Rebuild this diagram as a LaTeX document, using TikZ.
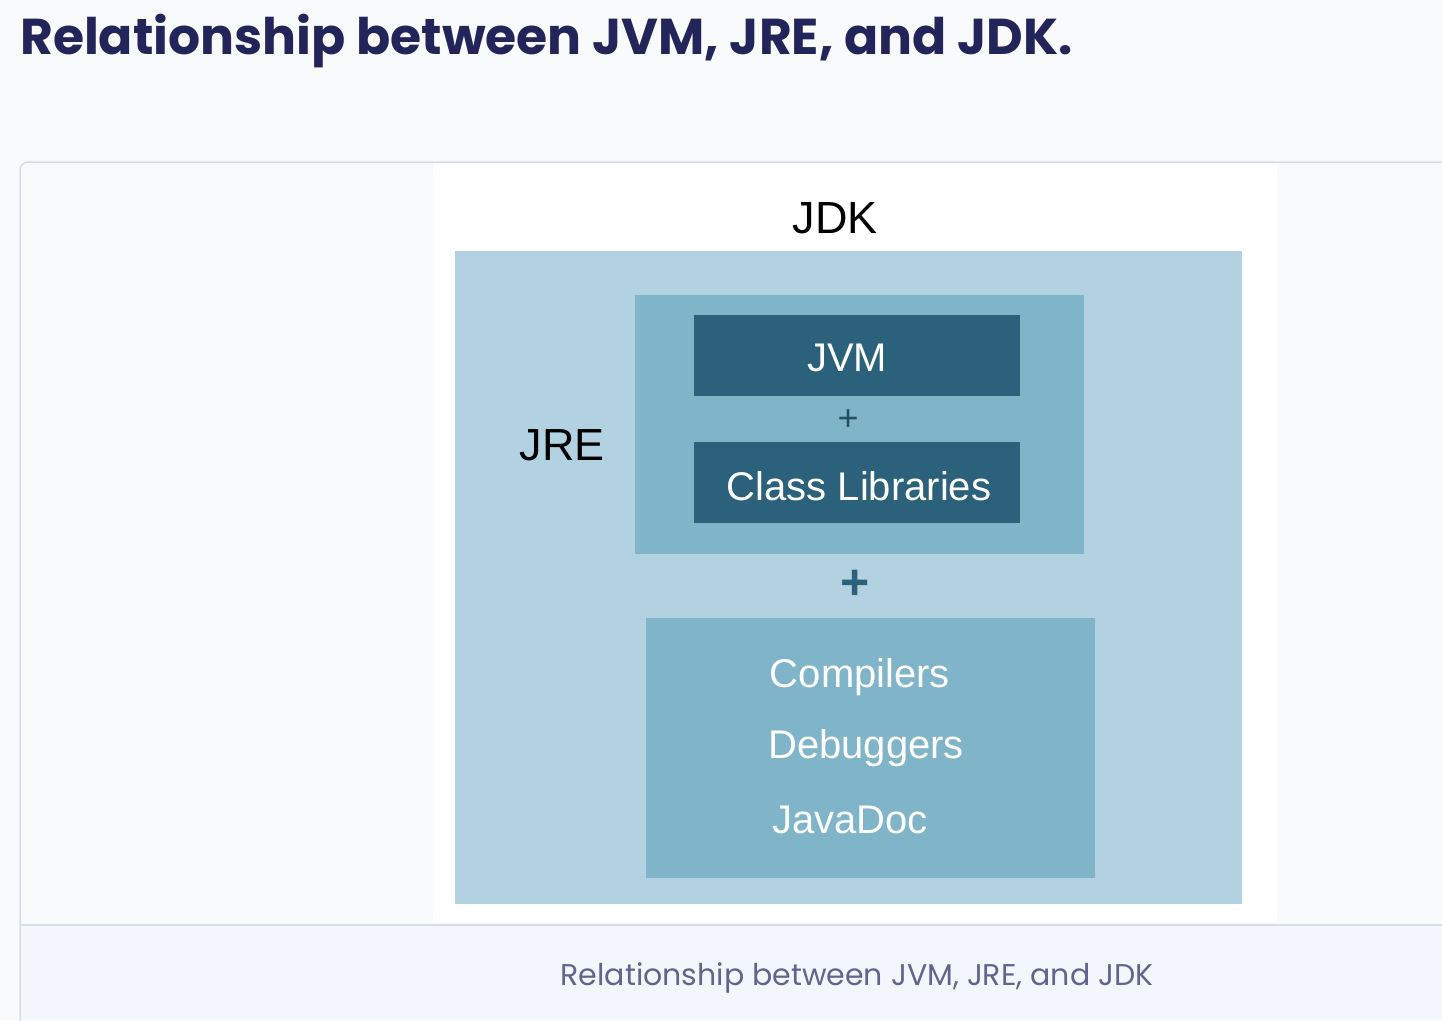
\documentclass[tikz,border=0pt]{standalone}
\usepackage{fontspec}
\setmainfont{Liberation Sans}
\newfontfamily\titlefont{Poppins}
\definecolor{pagebg}{HTML}{F8FAFC}
\definecolor{capbg}{HTML}{F3F6FC}
\definecolor{cardline}{HTML}{D5DDE6}
\definecolor{navy}{HTML}{23255A}
\definecolor{capcol}{HTML}{62648F}
\definecolor{jdkblue}{HTML}{B3D2E1}
\definecolor{jreblue}{HTML}{80B4C9}
\definecolor{jvmblue}{HTML}{2B617A}
\tikzset{
  box/.style={draw=none,inner sep=0pt,anchor=north west},
  whitetxt/.style={text=white,font=\fontsize{40}{40}\selectfont,inner sep=0pt},
  blacktxt/.style={text=black,font=\fontsize{45}{45}\selectfont,inner sep=0pt},
}
\begin{document}
\begin{tikzpicture}[x=1pt,y=-1pt]
\useasboundingbox (0,0) rectangle (1442,1020);
\fill[pagebg] (0,0) rectangle (1442,1020);
% card
\draw[cardline,line width=1.5pt,fill=pagebg,rounded corners=8pt] (20,162) rectangle (1470,1040);
\fill[capbg] (20.8,925) rectangle (1442,1019.2);
\draw[cardline,line width=2pt] (20.8,925) -- (1442,925);
% white image area
\fill[white] (433,163) rectangle (1277,922);
% diagram boxes
\fill[jdkblue] (455,251) rectangle (1242,904);
\fill[jreblue] (635,295) rectangle (1084,554);
\fill[jvmblue] (694,315) rectangle (1020,396);
\fill[jvmblue] (694,442) rectangle (1020,523);
\fill[jreblue] (646,618) rectangle (1095,878);
% texts
\node[blacktxt] (jdk) at (835,218) {JDK};
\node[blacktxt] (jre) at (562,445) {JRE};
\node[whitetxt] (jvm) at (847,358) {JVM};
\node[text=jvmblue!80!black,font=\fontsize{36}{36}\selectfont,inner sep=0pt] (plusa) at (848,420) {+};
\node[whitetxt] (cls) at (859,486) {Class Libraries};
\node[text=jvmblue,font=\bfseries\fontsize{50}{50}\selectfont,inner sep=0pt] (plusb) at (855,585) {+};
\node[whitetxt] (comp) at (860,677) {Compilers};
\node[whitetxt] (dbg) at (866,748) {Debuggers};
\node[whitetxt] (jdoc) at (850,820) {JavaDoc};
% title
\node[anchor=base west,inner sep=0pt,text=navy,font=\titlefont\bfseries\fontsize{50.4}{50.4}\selectfont] (title) at (20,54) {Relationship between JVM, JRE, and JDK.};
% caption
\node[anchor=base,inner sep=0pt,text=capcol,font=\titlefont\fontsize{30}{30}\selectfont] (caption) at (857,985) {Relationship between JVM, JRE, and JDK};
\end{tikzpicture}
\end{document}
